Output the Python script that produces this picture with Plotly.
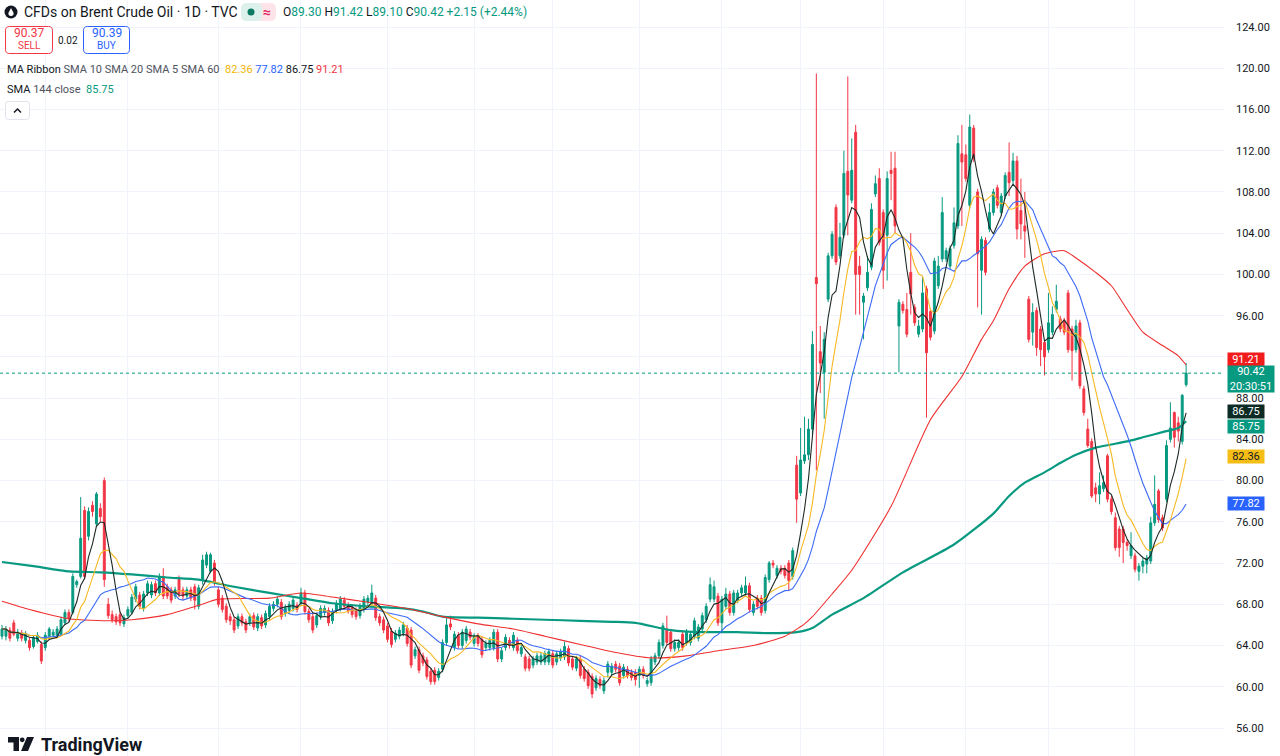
import plotly.graph_objects as go
import pandas as pd

# ---------------- data ----------------
opens = [
    64.9, 64.9, 65.5, 66.2, 64.7, 65.2, 64.5, 64.5, 63.9, 64.4, 64.1, 63.8, 64.9, 65.0, 65.0,
    65.1, 66.2, 67.2, 67.2, 69.9, 70.7, 77.1, 74.6, 77.6, 75.8, 77.3, 80.0, 68.0, 67.0, 66.8,
    67.0, 66.1, 66.9, 67.2, 68.5, 68.9, 67.6, 69.1, 68.9, 70.0, 69.1, 70.7, 69.7, 69.4, 68.8,
    70.4, 69.4, 68.8, 69.4, 69.7, 67.8, 70.4, 71.8, 71.2, 72.0, 69.4, 68.6, 67.8, 66.8, 66.5,
    65.9, 66.8, 66.3, 66.2, 66.9, 65.7, 66.7, 66.0, 66.8, 67.6, 68.0, 68.2, 67.1, 67.4, 67.6,
    67.9, 68.1, 69.1, 67.3, 66.8, 66.0, 66.8, 67.2, 67.4, 66.4, 67.4, 67.6, 68.4, 67.9, 67.7,
    67.4, 66.9, 67.5, 68.2, 68.2, 68.6, 66.8, 66.5, 65.9, 65.4, 64.6, 64.9, 65.2, 65.7, 65.5,
    63.0, 63.6, 63.0, 62.6, 61.5, 61.6, 60.9, 61.7, 64.3, 66.1, 63.8, 65.0, 64.0, 64.5, 65.3,
    64.2, 64.9, 64.6, 63.8, 63.8, 63.8, 65.3, 62.7, 63.8, 64.5, 63.8, 64.5, 63.2, 62.9, 62.7,
    62.1, 62.4, 62.4, 62.4, 62.4, 63.2, 62.4, 62.8, 62.9, 63.7, 62.7, 61.8, 62.7, 61.7, 61.4,
    61.0, 59.9, 60.7, 59.6, 61.4, 61.4, 62.2, 62.0, 61.1, 61.7, 61.4, 61.4, 61.1, 61.7, 60.3,
    60.4, 62.4, 63.0, 64.0, 65.6, 65.3, 63.7, 63.8, 65.1, 64.3, 64.3, 64.9, 64.7, 65.6, 66.5,
    68.5, 68.5, 68.8, 66.2, 67.8, 69.0, 67.2, 68.4, 69.1, 69.1, 69.8, 67.2, 68.6, 68.6, 67.4,
    70.4, 72.0, 70.8, 71.5, 71.5, 72.0, 70.7, 81.5, 78.8, 81.9, 82.5, 85.0, 99.7, 92.5, 90.5,
    97.6, 101.8, 106.5, 101.8, 103.8, 110.0, 107.2, 113.8, 100.8, 97.3, 98.7, 100.7, 107.8, 109.3, 106.0,
    103.8, 110.1, 110.3, 95.0, 97.1, 96.6, 100.2, 96.8, 94.2, 94.7, 98.6, 96.4, 94.5, 98.9, 101.5,
    101.5, 100.8, 102.8, 104.7, 111.7, 111.6, 106.7, 114.2, 108.0, 100.4, 103.3, 104.4, 106.0, 108.4, 106.0,
    107.6, 109.9, 109.1, 111.0, 106.2, 104.7, 97.6, 94.4, 96.5, 94.7, 93.4, 92.7, 94.4, 96.6, 95.7,
    95.5, 98.2, 94.7, 92.7, 95.3, 88.9, 85.0, 83.8, 79.3, 78.7, 79.2, 82.4, 78.2, 76.4, 75.3,
    75.3, 74.0, 72.7, 72.7, 71.2, 71.7, 71.9, 72.2, 75.9, 79.0, 76.4, 78.2, 84.0, 86.6, 85.6,
    83.8, 89.30,
]
highs = [
    66.0, 65.9, 65.8, 66.5, 65.6, 65.5, 65.4, 64.8, 65.0, 65.3, 64.4, 65.3, 65.8, 65.6, 65.9,
    66.8, 67.5, 67.5, 71.0, 70.4, 78.4, 77.5, 77.4, 78.0, 78.9, 77.8, 80.3, 68.6, 67.4, 67.1,
    67.3, 67.0, 67.8, 69.0, 70.0, 69.2, 69.3, 70.3, 70.2, 70.3, 71.0, 71.5, 70.0, 69.7, 69.7,
    70.8, 69.7, 69.7, 69.7, 70.0, 69.9, 72.8, 73.1, 73.0, 72.3, 69.7, 68.9, 68.1, 67.1, 66.8,
    67.1, 67.1, 66.6, 67.1, 67.2, 67.1, 67.0, 67.4, 68.1, 68.3, 68.8, 68.5, 68.0, 68.3, 68.7,
    68.2, 69.6, 69.4, 67.6, 67.1, 67.2, 67.9, 67.9, 67.7, 67.6, 68.4, 68.8, 68.7, 68.2, 68.0,
    67.7, 68.1, 68.8, 68.9, 69.9, 68.9, 67.1, 66.8, 66.2, 65.7, 65.5, 65.8, 66.3, 66.0, 65.8,
    63.9, 63.9, 63.3, 62.9, 61.8, 61.9, 61.8, 64.6, 66.7, 66.9, 65.4, 65.3, 65.6, 65.9, 65.6,
    65.2, 65.2, 64.9, 64.5, 64.8, 65.6, 65.6, 63.8, 65.1, 64.8, 65.3, 64.8, 64.1, 63.2, 63.0,
    63.0, 63.3, 63.3, 63.5, 63.7, 63.5, 63.5, 63.7, 64.4, 64.0, 63.0, 63.0, 63.0, 62.0, 61.7,
    61.3, 61.1, 61.0, 60.9, 62.5, 62.3, 62.5, 62.3, 62.2, 62.0, 61.7, 61.7, 62.0, 62.0, 60.9,
    63.0, 63.3, 64.6, 66.2, 66.9, 65.6, 64.6, 64.6, 65.4, 65.6, 65.4, 66.7, 66.1, 67.2, 68.1,
    70.6, 70.3, 69.1, 68.8, 69.6, 69.3, 69.4, 69.4, 69.9, 70.7, 70.1, 68.3, 68.9, 68.9, 70.9,
    72.2, 72.3, 71.8, 71.8, 71.8, 72.3, 73.5, 82.4, 85.1, 86.2, 86.0, 94.5, 119.5, 95.0, 94.4,
    102.1, 104.2, 106.8, 105.0, 112.0, 119.2, 113.2, 114.5, 101.8, 98.2, 101.8, 106.9, 109.6, 110.3, 106.3,
    110.0, 111.9, 111.9, 97.6, 97.4, 98.2, 104.0, 97.1, 95.6, 99.8, 98.9, 96.7, 101.6, 101.8, 107.5,
    102.6, 102.8, 106.5, 113.5, 114.5, 112.6, 115.5, 114.5, 108.3, 103.7, 103.6, 106.9, 108.3, 108.7, 107.9,
    109.9, 112.8, 111.8, 111.5, 109.3, 108.0, 97.9, 97.2, 96.8, 95.0, 93.7, 98.2, 96.9, 99.0, 96.0,
    95.8, 98.5, 95.0, 95.6, 95.6, 89.2, 86.0, 84.1, 79.8, 80.8, 80.5, 82.6, 78.5, 76.9, 75.6,
    75.6, 74.3, 75.0, 73.0, 72.0, 72.5, 72.8, 76.5, 80.5, 79.2, 76.7, 83.9, 87.6, 86.7, 86.2,
    88.4, 91.42,
]
lows = [
    64.6, 64.5, 64.4, 64.9, 64.4, 64.4, 64.2, 63.5, 63.7, 64.2, 62.2, 63.5, 64.7, 64.8, 64.8,
    64.9, 66.0, 66.3, 67.0, 69.6, 70.5, 70.4, 74.2, 76.5, 75.5, 76.0, 69.7, 66.6, 66.2, 66.0,
    65.9, 65.8, 66.6, 67.0, 68.2, 67.5, 67.3, 68.8, 68.6, 68.8, 68.8, 68.5, 68.5, 68.1, 68.5,
    68.7, 68.4, 68.5, 68.3, 67.5, 67.5, 69.9, 71.5, 71.0, 69.8, 67.7, 67.2, 66.2, 66.0, 65.2,
    65.6, 65.9, 65.2, 65.9, 65.5, 65.4, 65.6, 65.7, 66.5, 67.3, 67.7, 66.5, 66.8, 67.1, 67.3,
    67.2, 67.8, 67.0, 66.2, 65.2, 65.7, 66.5, 66.9, 65.9, 66.1, 67.1, 67.3, 67.5, 67.1, 66.7,
    66.5, 66.6, 67.2, 67.9, 67.9, 66.4, 65.9, 65.2, 64.3, 63.8, 64.3, 64.6, 64.9, 63.9, 61.8,
    62.7, 61.3, 62.0, 60.7, 60.2, 60.2, 60.6, 61.4, 64.0, 65.5, 63.5, 63.7, 63.7, 64.2, 64.5,
    63.9, 63.9, 62.8, 63.5, 63.5, 63.5, 62.4, 62.4, 63.5, 63.7, 63.5, 63.2, 62.9, 61.5, 61.5,
    61.8, 62.1, 62.1, 62.1, 62.1, 61.8, 62.1, 62.5, 62.6, 62.0, 61.6, 61.5, 60.8, 60.5, 59.8,
    58.9, 59.6, 59.8, 59.3, 60.9, 61.1, 61.4, 60.1, 60.8, 60.8, 60.6, 60.1, 59.9, 60.8, 60.0,
    60.1, 62.1, 62.7, 63.7, 64.0, 63.4, 63.4, 63.5, 63.5, 64.0, 64.0, 64.6, 64.4, 65.3, 66.2,
    68.2, 68.2, 65.9, 65.4, 67.5, 66.9, 66.9, 68.1, 68.8, 68.8, 67.2, 66.9, 67.5, 66.9, 67.1,
    70.1, 71.5, 70.5, 70.9, 70.5, 69.3, 70.4, 75.9, 78.5, 81.6, 82.0, 84.5, 81.0, 88.5, 86.0,
    97.3, 101.5, 100.9, 101.5, 103.5, 103.8, 106.9, 96.1, 96.1, 93.7, 98.4, 100.4, 107.5, 102.8, 98.6,
    99.4, 107.2, 104.0, 90.5, 96.2, 93.9, 96.1, 95.0, 93.9, 94.4, 86.1, 93.6, 94.2, 98.6, 101.2,
    101.2, 100.5, 102.5, 104.4, 104.7, 109.0, 106.4, 110.9, 96.8, 96.1, 99.9, 104.1, 105.7, 106.4, 105.7,
    107.3, 107.6, 108.8, 103.4, 103.4, 101.6, 93.4, 93.1, 92.1, 91.1, 90.2, 92.4, 94.1, 96.3, 94.4,
    94.1, 92.4, 89.7, 92.4, 88.9, 86.3, 83.2, 78.3, 77.9, 77.7, 78.9, 77.9, 76.7, 73.2, 72.6,
    72.0, 73.2, 72.4, 71.1, 70.3, 71.0, 71.0, 71.9, 75.6, 75.9, 75.1, 77.9, 83.7, 83.2, 83.8,
    83.5, 89.10,
]
closes = [
    65.6, 65.6, 64.7, 65.1, 65.3, 64.7, 65.1, 63.8, 64.8, 65.0, 62.5, 65.0, 65.6, 65.3, 65.6,
    66.5, 67.2, 66.6, 70.7, 70.2, 74.4, 70.7, 77.0, 77.0, 78.7, 76.5, 70.4, 66.9, 66.5, 66.3,
    66.2, 66.7, 67.5, 68.7, 69.7, 67.8, 69.0, 70.0, 69.9, 69.1, 70.7, 68.8, 68.8, 68.4, 69.4,
    69.0, 68.8, 69.4, 68.6, 68.4, 69.6, 72.3, 72.8, 72.8, 70.1, 68.0, 67.5, 66.5, 66.4, 65.5,
    66.8, 66.2, 65.5, 66.8, 65.8, 66.8, 65.9, 67.1, 67.8, 68.0, 68.5, 66.8, 67.7, 68.0, 68.4,
    67.5, 69.1, 67.3, 66.5, 65.5, 66.9, 67.6, 67.6, 66.2, 67.3, 68.1, 68.5, 67.8, 67.4, 67.0,
    66.8, 67.8, 68.5, 68.6, 69.1, 66.7, 66.2, 65.5, 64.6, 64.1, 65.2, 65.5, 66.0, 64.2, 62.1,
    63.6, 61.6, 62.3, 61.0, 60.5, 60.5, 61.5, 64.3, 66.0, 65.8, 65.1, 64.0, 65.3, 65.6, 64.8,
    64.9, 64.2, 63.1, 64.2, 64.5, 65.3, 62.7, 63.5, 64.8, 64.0, 65.0, 63.5, 63.8, 61.8, 61.8,
    62.7, 63.0, 63.0, 63.2, 63.4, 62.1, 63.2, 63.4, 63.9, 62.3, 61.9, 62.7, 61.1, 60.8, 60.1,
    59.3, 60.8, 60.1, 60.6, 62.2, 62.0, 61.7, 60.4, 61.9, 61.1, 60.9, 60.7, 61.7, 61.1, 60.6,
    62.7, 63.0, 64.3, 65.9, 64.3, 63.7, 64.3, 64.3, 63.8, 65.3, 65.1, 66.4, 65.8, 66.9, 67.8,
    69.9, 69.7, 66.2, 68.5, 69.0, 67.2, 69.1, 69.1, 69.6, 69.8, 67.5, 68.0, 67.8, 67.2, 70.6,
    72.0, 71.8, 71.5, 71.2, 70.8, 70.3, 73.2, 78.2, 82.0, 82.5, 85.0, 93.2, 99.1, 91.4, 93.7,
    101.8, 103.9, 101.2, 103.6, 109.8, 107.7, 110.1, 100.0, 100.0, 97.9, 100.2, 106.3, 108.8, 103.1, 100.4,
    109.3, 109.8, 104.7, 97.3, 96.5, 94.2, 98.1, 95.3, 95.0, 98.2, 92.4, 93.9, 101.3, 100.8, 106.0,
    102.3, 102.5, 105.0, 112.7, 110.9, 109.3, 114.3, 111.2, 102.0, 103.4, 100.2, 106.0, 108.0, 106.7, 107.6,
    109.6, 108.9, 111.0, 104.4, 104.9, 104.2, 93.7, 96.3, 92.9, 92.7, 92.0, 95.3, 96.1, 97.4, 94.7,
    94.4, 92.7, 92.6, 95.0, 89.2, 86.6, 83.4, 78.5, 78.7, 79.5, 79.8, 78.2, 77.0, 73.5, 73.5,
    74.0, 73.7, 73.7, 71.4, 71.7, 72.2, 72.5, 75.9, 77.7, 76.2, 75.4, 83.4, 85.1, 84.2, 84.8,
    88.27, 90.42,
]

# SMA 60 and SMA 144 lines (bar index -> value)
sma60_bars = [0, 7, 17, 28, 33, 42, 50, 55, 68, 76, 84, 93, 103, 112, 121, 130, 138, 147, 155, 165,
              174, 182, 191, 199, 204, 206, 211, 216, 226, 236, 244, 249, 252, 256, 260, 265, 270, 273,
              278, 282, 286, 290, 295, 299, 301]
sma60_vals = [68.3, 67.5, 66.6, 66.4, 66.5, 67.0, 67.9, 68.5, 68.6, 69.1, 68.7, 68.2, 67.6, 66.8, 66.1,
              65.6, 64.9, 64.1, 63.4, 62.8, 63.0, 63.5, 64.0, 64.9, 66.1, 66.8, 69.0, 71.3, 77.5, 85.9,
              90.1, 93.7, 95.5, 98.6, 100.8, 102.0, 102.3, 101.6, 100.2, 98.9, 96.6, 94.4, 93.1, 92.1, 91.21]
sma144_bars = [0, 8, 17, 25, 33, 42, 50, 59, 68, 76, 84, 93, 102, 107, 112, 121, 130, 138, 147, 155,
               161, 170, 178, 187, 195, 202, 206, 211, 219, 229, 242, 252, 256, 260, 265, 269, 273, 278,
               282, 286, 290, 295, 299, 301]
sma144_vals = [72.1, 71.7, 71.2, 71.1, 70.9, 70.6, 70.4, 69.7, 69.1, 68.6, 68.1, 67.8, 67.6, 67.3, 66.8,
               66.7, 66.6, 66.5, 66.4, 66.3, 66.2, 65.5, 65.3, 65.3, 65.2, 65.3, 65.7, 67.0, 68.6, 71.1,
               73.8, 76.8, 78.5, 79.8, 80.8, 81.7, 82.5, 83.2, 83.5, 83.8, 84.2, 84.7, 85.1, 85.75]

# bars where a new month starts (vertical grid lines)
month_start_bars = [11, 32, 55, 76, 98, 120, 140, 162, 183, 203, 224, 245, 266, 288]

# price-axis ticks (92.00 is covered by the SMA 60 tag in the reference)
price_ticks = [56, 60, 64, 68, 72, 76, 80, 84, 88, 92, 96, 100, 104, 108, 112, 116, 120, 124]
hidden_ticks = [92]

# legend / header values
symbol_title = "CFDs on Brent Crude Oil · 1D · TVC"
quote_o, quote_h, quote_l, quote_c = 89.30, 91.42, 89.10, 90.42
quote_chg, quote_chg_pct = 2.15, 2.44
sell_price, buy_price, spread = 90.37, 90.39, 0.02
ma_names = ["SMA 10", "SMA 20", "SMA 5", "SMA 60"]
ma_last = [82.36, 77.82, 86.75, 91.21]
sma144_last = 85.75
countdown = "20:30:51"

# ---------------- styling ----------------
GREEN = "#089981"
RED = "#F23645"
BLUE = "#2962FF"
YELLOW = "#F7B924"
DARK = "#131722"
GRID = "#F0F3FA"
FONT = "Roboto"

W, H = 1280, 756
PW = 1224           # plot-area width in px
STEP = 3.934        # px per bar
X0 = 2.0            # px of first bar


def fx(px):
    return px / PW


def fy(py):
    return 1 - py / H


def rrect(x0, y0, x1, y1, r):
    pts = [
        ("M", [(x0 + r, y0)]), ("L", [(x1 - r, y0)]), ("Q", [(x1, y0), (x1, y0 + r)]),
        ("L", [(x1, y1 - r)]), ("Q", [(x1, y1), (x1 - r, y1)]), ("L", [(x0 + r, y1)]),
        ("Q", [(x0, y1), (x0, y1 - r)]), ("L", [(x0, y0 + r)]), ("Q", [(x0, y0), (x0 + r, y0)]),
    ]
    s = ""
    for cmd, ps in pts:
        s += cmd + " ".join(f"{fx(a):.5f},{fy(b):.5f}" for a, b in ps) + " "
    return s + "Z"


n = len(closes)
bars = list(range(n))
cs = pd.Series(closes)
sma5 = cs.rolling(5, min_periods=1).mean()
sma10 = cs.rolling(10, min_periods=1).mean()
sma20 = cs.rolling(20, min_periods=1).mean()

fig = go.Figure()
fig.add_trace(go.Candlestick(
    x=bars, open=opens, high=highs, low=lows, close=closes,
    increasing=dict(line=dict(color=GREEN, width=1), fillcolor=GREEN),
    decreasing=dict(line=dict(color=RED, width=1), fillcolor=RED),
    whiskerwidth=0, hoverinfo="skip", showlegend=False,
))
fig.add_trace(go.Scatter(x=sma144_bars, y=sma144_vals, mode="lines",
                         line=dict(color=GREEN, width=2.2, shape="spline", smoothing=0.6),
                         hoverinfo="skip", showlegend=False))
fig.add_trace(go.Scatter(x=sma60_bars, y=sma60_vals, mode="lines",
                         line=dict(color="#EF2F2F", width=1.1, shape="spline", smoothing=0.6),
                         hoverinfo="skip", showlegend=False))
fig.add_trace(go.Scatter(x=bars, y=sma20, mode="lines", line=dict(color="#3D6BF5", width=1.1),
                         hoverinfo="skip", showlegend=False))
fig.add_trace(go.Scatter(x=bars, y=sma10, mode="lines", line=dict(color=YELLOW, width=1.1),
                         hoverinfo="skip", showlegend=False))
fig.add_trace(go.Scatter(x=bars, y=sma5, mode="lines", line=dict(color="#1E2A26", width=1.1),
                         hoverinfo="skip", showlegend=False))

# y range such that 124 sits at y=27px and 56 at y=728px
ppu = (728 - 27) / (124 - 56)
y_top = 124 + 27 / ppu
y_bot = 124 - (H - 27) / ppu
x_lo = -X0 / STEP
x_hi = (PW - X0) / STEP

shapes = []
annotations = []

# current-price dotted line
shapes.append(dict(type="line", xref="paper", x0=0, x1=1, yref="y", y0=quote_c, y1=quote_c,
                   line=dict(color=GREEN, width=1, dash="dot"), layer="above"))


# ---- right-axis price tags ----
def tag(value, bg, fg, yshift=0, text=None, width=36, height=13, yanchor="middle"):
    annotations.append(dict(
        xref="paper", x=1, xanchor="left", xshift=3,
        yref="y", y=value, yanchor=yanchor, yshift=yshift,
        text=text if text is not None else f"{value:.2f}",
        showarrow=False, bgcolor=bg, font=dict(family=FONT, size=11, color=fg),
        width=width, height=height, borderpad=0, align="center",
    ))


tag(ma_last[3], "#F21B1B", "white", yshift=6)
tag(quote_c, GREEN, "white", yshift=8, text=f"{quote_c:.2f}<br>{countdown}", width=46, height=26,
    yanchor="top")
tag(ma_last[2], "#0C2B24", "white")
tag(sma144_last, GREEN, "white", yshift=-5)
tag(ma_last[0], "#F5BE16", DARK)
tag(ma_last[1], BLUE, "white")


# ---- header ----
def text(px, py, s, size=12, color=DARK, anchor="left", weight=None):
    annotations.append(dict(
        xref="paper", yref="paper", x=fx(px), y=fy(py), xanchor=anchor, yanchor="middle",
        text=s, showarrow=False, font=dict(family=FONT, size=size, color=color,
                                           weight=weight if weight else "normal"),
    ))


# symbol logo
shapes.append(dict(type="circle", xref="paper", yref="paper", x0=fx(4.5), x1=fx(17.5),
                   y0=fy(18.5), y1=fy(5.5), fillcolor=DARK, line=dict(width=0)))
shapes.append(dict(type="path", xref="paper", yref="paper",
                   path=f"M{fx(11)},{fy(8)} L{fx(13.6)},{fy(13)} Q{fx(13.8)},{fy(16)} {fx(11)},{fy(16)} "
                        f"Q{fx(8.2)},{fy(16)} {fx(8.4)},{fy(13)} Z",
                   fillcolor="white", line=dict(width=0)))
text(22, 12.5, symbol_title, size=14)

# status pill
shapes.append(dict(type="path", xref="paper", yref="paper", path=rrect(241, 3, 276, 21, 6),
                   fillcolor="#FCE4E8", line=dict(width=0)))
shapes.append(dict(type="path", xref="paper", yref="paper", path=rrect(241, 3, 262, 21, 6),
                   fillcolor="#DDF1EC", line=dict(width=0)))
shapes.append(dict(type="rect", xref="paper", yref="paper", x0=fx(252), x1=fx(258.5), y0=fy(21), y1=fy(3),
                   fillcolor="#DDF1EC", line=dict(width=0)))
shapes.append(dict(type="circle", xref="paper", yref="paper", x0=fx(247.5), x1=fx(254.5),
                   y0=fy(15.5), y1=fy(8.5), fillcolor="#0B7A60", line=dict(width=0)))
text(267, 12, "≈", size=14, color="#E0245E", anchor="center", weight="bold")

num = lambda v: f"<span style='color:{GREEN}'>{v}</span>"
ohlc = (f"O{num(f'{quote_o:.2f}')} H{num(f'{quote_h:.2f}')} L{num(f'{quote_l:.2f}')} "
        f"C{num(f'{quote_c:.2f}')} {num(f'+{quote_chg:.2f} (+{quote_chg_pct:.2f}%)')}")
text(281, 12.5, ohlc, size=12)

# sell / buy boxes
shapes.append(dict(type="path", xref="paper", yref="paper", path=rrect(5.5, 26.5, 52.5, 53.5, 4),
                   line=dict(color=RED, width=1), fillcolor="white"))
shapes.append(dict(type="path", xref="paper", yref="paper", path=rrect(83.5, 26.5, 129.5, 53.5, 4),
                   line=dict(color=BLUE, width=1), fillcolor="white"))
text(29, 33.5, f"{sell_price:.2f}", size=12, color=RED, anchor="center")
text(29, 46, "SELL", size=10, color=RED, anchor="center")
text(67.5, 40, f"{spread:.2f}", size=10, color=DARK, anchor="center")
text(106.5, 33.5, f"{buy_price:.2f}", size=12, color=BLUE, anchor="center")
text(106.5, 46, "BUY", size=10, color=BLUE, anchor="center")

# indicator legends
ma_colors = ["#F2B705", BLUE, DARK, RED]
vals = " ".join(f"<span style='color:{c}'>{v:.2f}</span>" for v, c in zip(ma_last, ma_colors))
text(5, 69.5, f"MA Ribbon <span style='color:#50535E'>{' '.join(ma_names)}</span>  {vals}", size=11)
text(5, 89.5, f"SMA <span style='color:#50535E'>144 close</span>  "
              f"<span style='color:{GREEN}'>{sma144_last:.2f}</span>", size=11)

# collapse button
shapes.append(dict(type="path", xref="paper", yref="paper", path=rrect(5.5, 101.5, 29.5, 119.5, 3),
                   line=dict(color="#E0E3EB", width=1), fillcolor="white"))
shapes.append(dict(type="path", xref="paper", yref="paper",
                   path=f"M{fx(14)},{fy(112.5)} L{fx(17.5)},{fy(109)} L{fx(21)},{fy(112.5)}",
                   line=dict(color=DARK, width=1.5)))

# TradingView watermark logo
shapes.append(dict(type="path", xref="paper", yref="paper",
                   path=f"M{fx(8)},{fy(737)} L{fx(19)},{fy(737)} L{fx(19)},{fy(751)} L{fx(13.5)},{fy(751)} "
                        f"L{fx(13.5)},{fy(742.5)} L{fx(8)},{fy(742.5)} Z",
                   fillcolor=DARK, line=dict(width=0)))
shapes.append(dict(type="circle", xref="paper", yref="paper", x0=fx(19.8), x1=fx(24.6),
                   y0=fy(742.2), y1=fy(737.4), fillcolor=DARK, line=dict(width=0)))
shapes.append(dict(type="path", xref="paper", yref="paper",
                   path=f"M{fx(27)},{fy(737)} L{fx(34)},{fy(737)} L{fx(28)},{fy(751)} L{fx(21)},{fy(751)} Z",
                   fillcolor=DARK, line=dict(width=0)))
text(39, 744.5, "TradingView", size=18, color=DARK, weight="bold")

fig.update_layout(
    width=W, height=H,
    margin=dict(l=0, r=W - PW, t=0, b=0),
    paper_bgcolor="white", plot_bgcolor="white",
    showlegend=False, hovermode=False,
    shapes=shapes, annotations=annotations,
    font=dict(family=FONT, color=DARK),
    xaxis=dict(range=[x_lo, x_hi], rangeslider=dict(visible=False), showticklabels=False,
               tickmode="array", tickvals=month_start_bars, showgrid=True, gridcolor=GRID,
               gridwidth=1, zeroline=False, showline=False, ticks="", fixedrange=True),
    yaxis=dict(side="right", range=[y_bot, y_top], tickmode="array", tickvals=price_ticks,
               ticktext=["" if v in hidden_ticks else f"{v:.2f}" for v in price_ticks],
               showgrid=True, gridcolor=GRID,
               gridwidth=1, zeroline=False, showline=False, ticks="", ticklabelstandoff=11,
               tickfont=dict(family=FONT, size=11, color=DARK), fixedrange=True),
)

fig.write_html("out.html", config={"displayModeBar": False})
